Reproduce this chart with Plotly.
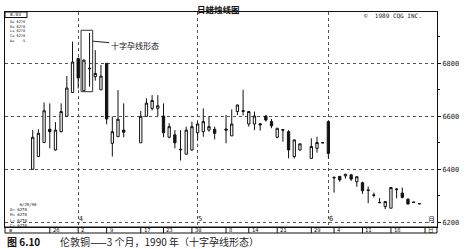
import plotly.graph_objects as go
import pandas as pd

# ---------------- data ----------------
dates = ["1990-03-21","1990-03-22","1990-03-23","1990-03-26","1990-03-27","1990-03-28","1990-03-29","1990-03-30",
         "1990-04-02","1990-04-03","1990-04-04","1990-04-05","1990-04-06","1990-04-09","1990-04-10","1990-04-11","1990-04-12",
         "1990-04-17","1990-04-18","1990-04-19","1990-04-20","1990-04-23","1990-04-24","1990-04-25","1990-04-26","1990-04-27",
         "1990-04-30","1990-05-01","1990-05-02","1990-05-03","1990-05-04",
         "1990-05-08","1990-05-09","1990-05-10","1990-05-11","1990-05-14","1990-05-15","1990-05-16","1990-05-17","1990-05-18",
         "1990-05-21","1990-05-22","1990-05-23","1990-05-24","1990-05-25",
         "1990-05-29","1990-05-30","1990-05-31","1990-06-01",
         "1990-06-04","1990-06-05","1990-06-06","1990-06-07","1990-06-08",
         "1990-06-11","1990-06-12","1990-06-13","1990-06-14","1990-06-15",
         "1990-06-18","1990-06-19","1990-06-20","1990-06-21","1990-06-22","1990-06-25"]

opens  = [6400,6448,6501,6551,6473,6542,6600,6690,
          6818,6697,6782,6750,6700,6800,6498,6523,6548,
          6500,6600,6630,6630,6601,6521,6530,6476,6457,
          6473,6538,6542,6548,6551,
          6552,6526,6618,6621,6571,6571,6572,6601,6580,
          6521,6550,6542,6448,6473,
          6441,6479,6501,6580,
          6370,6373,6375,6379,6353,
          6349,6322,6303,6275,6259,
          6253,6323,6310,6287,6276,6270]
highs  = [6548,6551,6652,6649,6578,6649,6752,6882,
          6822,6815,6915,6850,6794,6800,6599,6699,6649,
          6620,6668,6680,6680,6649,6574,6548,6548,6561,
          6580,6580,6630,6601,6561,
          6605,6626,6643,6700,6620,6618,6575,6603,6590,
          6555,6551,6548,6511,6498,
          6517,6523,6503,6580,
          6372,6375,6383,6381,6372,
          6353,6335,6312,6291,6280,
          6333,6328,6331,6290,6277,6270]
lows   = [6400,6448,6501,6479,6470,6540,6600,6690,
          6705,6697,6712,6735,6700,6570,6448,6523,6521,
          6500,6600,6622,6600,6521,6517,6479,6433,6457,
          6470,6511,6523,6542,6513,
          6498,6526,6605,6603,6561,6548,6546,6580,6555,
          6517,6504,6441,6441,6470,
          6441,6463,6498,6441,
          6312,6353,6365,6356,6334,
          6307,6272,6294,6273,6250,
          6253,6290,6290,6267,6273,6270]
closes = [6521,6536,6621,6542,6548,6618,6707,6805,
          6745,6812,6780,6762,6752,6590,6542,6589,6540,
          6600,6650,6660,6640,6538,6561,6500,6474,6548,
          6561,6571,6580,6561,6536,
          6548,6571,6643,6619,6618,6601,6568,6586,6564,
          6555,6548,6473,6511,6496,
          6486,6501,6500,6460,
          6368,6360,6381,6363,6372,
          6319,6320,6302,6274,6278,
          6331,6325,6294,6269,6275,6270]

month_starts = ["1990-04-02", "1990-05-01", "1990-06-01"]
month_labels = ["4", "5", "6"]
day_ticks = ["1990-03-26","1990-04-02","1990-04-09","1990-04-17","1990-04-23","1990-04-30","1990-05-08",
             "1990-05-14","1990-05-21","1990-05-29","1990-06-04","1990-06-11","1990-06-18","1990-06-26"]
day_labels = ["26","2","9","17","23","30","8","14","21","29","4","11","18","日"]
price_ticks = [6200, 6400, 6600, 6800]

pattern_idx = [9, 10]   # harami cross (Apr 3 / Apr 4)

# ---------------- figure ----------------
MONO = "DejaVu Sans Mono"
CJK = "Noto Sans CJK SC"
fig = go.Figure()
fig.add_trace(go.Candlestick(
    x=dates, open=opens, high=highs, low=lows, close=closes,
    increasing=dict(line=dict(color="#111", width=1), fillcolor="white"),
    decreasing=dict(line=dict(color="#111", width=1), fillcolor="#111"),
    whiskerwidth=0, showlegend=False, hoverinfo="skip"))

PLOT_H = 249 - 12 - 22
strip_h = 6 / PLOT_H

fig.update_layout(
    width=466, height=249, margin=dict(l=5, r=29, t=12, b=22),
    paper_bgcolor="white", plot_bgcolor="white", boxgap=0.42,
    xaxis=dict(type="date", rangeslider=dict(visible=False),
               rangebreaks=[dict(bounds=["sat", "mon"])],
               range=["1990-03-14 03:00", "1990-06-28 02:30"],
               tickvals=month_starts, ticktext=month_labels,
               ticklabelposition="inside right", ticks="", ticklabeloverflow="allow",
               tickfont=dict(family=MONO, size=7, color="#222"),
               showgrid=True, gridcolor="#555", griddash="dot", gridwidth=1,
               showline=True, linecolor="#111", linewidth=1, mirror=True, zeroline=False),
    yaxis=dict(side="right", range=[6182, 6994], tickvals=price_ticks,
               ticks="outside", ticklen=3, tickcolor="#111", ticklabeloverflow="allow",
               minor=dict(dtick=100, ticks="outside", ticklen=2, tickcolor="#111", showgrid=False),
               tickfont=dict(family=MONO, size=7, color="#222"),
               showgrid=True, gridcolor="#555", griddash="dot", gridwidth=1,
               showline=True, linecolor="#111", linewidth=1, mirror=True, zeroline=False),
)

# harami box
x0 = pd.Timestamp(dates[pattern_idx[0]]) - pd.Timedelta(hours=12)
x1 = pd.Timestamp(dates[pattern_idx[-1]]) + pd.Timedelta(hours=13)
y0 = min(lows[i] for i in pattern_idx) - 4
y1 = max(highs[i] for i in pattern_idx) + 10
fig.add_shape(type="rect", x0=x0, x1=x1, y0=y0, y1=y1, line=dict(color="#333", width=1))
fig.add_annotation(x=x1, y=6884, text="十字孕线形态", showarrow=True, arrowhead=0, arrowwidth=1,
                   arrowcolor="#222", ax=42, ay=4, font=dict(family=CJK, size=8, color="#111"))

# bottom date strip
fig.add_shape(type="rect", xref="paper", yref="paper", x0=0, x1=1, y0=-strip_h, y1=0,
              line=dict(color="#111", width=1))
for d, lab in zip(day_ticks, day_labels):
    fig.add_shape(type="line", xref="x", yref="paper", x0=d, x1=d, y0=-strip_h, y1=0,
                  line=dict(color="#111", width=1))
    fig.add_annotation(x=d, xref="x", yref="paper", y=-strip_h / 2, text=lab, showarrow=False,
                       xanchor="left", xshift=1, yanchor="middle",
                       font=dict(family=MONO if lab != "日" else CJK, size=5.5, color="#111"))
fig.add_annotation(xref="paper", yref="paper", x=0.004, y=-strip_h / 2, text="≡", showarrow=False,
                   xanchor="left", yanchor="middle", font=dict(family=MONO, size=5.5, color="#111"))
fig.add_annotation(x="1990-06-26", xref="x", yref="paper", y=0.005, text="月", showarrow=False,
                   xanchor="left", yanchor="bottom", xshift=1, font=dict(family=CJK, size=7, color="#111"))

def paper_y(py):
    return 1 - (py - 12) / PLOT_H

# title, caption
fig.add_annotation(xref="paper", yref="paper", x=(218 - 5) / 432, y=paper_y(0.5), text="<b>日蜡烛线图</b>",
                   showarrow=False, xanchor="center", yanchor="top", font=dict(family=CJK, size=8.5, color="#111"))
fig.add_annotation(xref="paper", yref="paper", x=0, y=paper_y(241.6), text="<b>图 6.10</b>",
                   showarrow=False, xanchor="left", yanchor="middle", font=dict(family=CJK, size=10, color="#111"))
fig.add_annotation(xref="paper", yref="paper", x=(58 - 5) / 432, y=paper_y(241.6),
                   text="伦敦铜——3 个月，1990 年（十字孕线形态）",
                   showarrow=False, xanchor="left", yanchor="middle", font=dict(family=CJK, size=10, color="#222"))

# copyright
fig.add_annotation(xref="paper", yref="paper", x=(362 - 5) / 432, y=paper_y(15.5), text="©  1989 CQG INC.",
                   showarrow=False, xanchor="left", yanchor="middle", font=dict(family=MONO, size=6, color="#222"))

# info box top-left
fig.add_shape(type="rect", xref="paper", yref="paper", x0=0, x1=22 / 432, y0=paper_y(17.5), y1=1,
              line=dict(color="#111", width=1))
fig.add_annotation(xref="paper", yref="paper", x=3 / 432, y=paper_y(14.8), text="8:03", showarrow=False,
                   xanchor="left", yanchor="middle", font=dict(family=MONO, size=4.5, color="#111"))
top_lines = ["O= 6270", "H= 6270", "L= 6270", "C= 6270", "Δ=   -5"]
fig.add_annotation(xref="paper", yref="paper", x=3 / 432, y=paper_y(18), align="left",
                   text="<br>".join(t.replace(" ", "&nbsp;") for t in top_lines),
                   showarrow=False, xanchor="left", yanchor="top",
                   font=dict(family=MONO, size=3.6, color="#111"))
bot_lines = ["&nbsp;&nbsp;&nbsp;&nbsp;6/25/90", "O=&nbsp;6270", "H=&nbsp;6270", "L=&nbsp;6270", "C=&nbsp;6270"]
fig.add_annotation(xref="paper", yref="paper", x=3 / 432, y=paper_y(199.5), align="left",
                   text="<br>".join(bot_lines),
                   showarrow=False, xanchor="left", yanchor="top",
                   font=dict(family=MONO, size=4, color="#111"))

fig.write_html("out.html")
